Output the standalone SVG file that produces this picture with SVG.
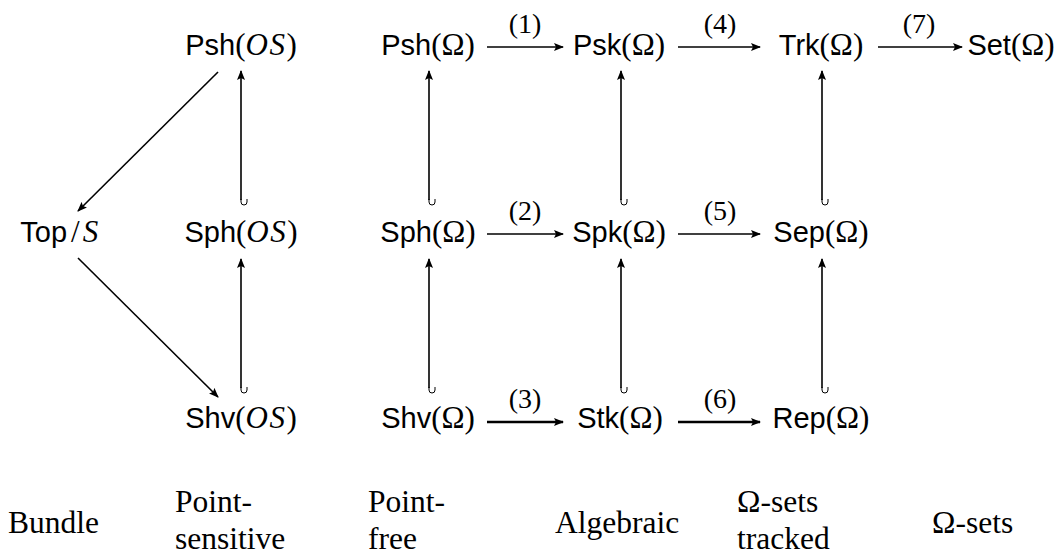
<svg xmlns="http://www.w3.org/2000/svg" width="1063" height="560" viewBox="0 0 1063 560">
<style>
.n{font-family:"Liberation Sans",Arial,sans-serif;font-size:29px;fill:#000}
.r{font-family:"Liberation Serif","Times New Roman",serif;font-size:31px}
.i{font-family:"Liberation Serif","Times New Roman",serif;font-size:31px;font-style:italic;letter-spacing:1.5px}
.lb{font-family:"Liberation Serif","Times New Roman",serif;font-size:28px;fill:#000;text-anchor:middle}
.cap{font-family:"Liberation Serif","Times New Roman",serif;font-size:31.5px;fill:#000}
.a{stroke:#000;stroke-width:1.6;fill:none;marker-end:url(#ah)}
.a2{stroke:#000;stroke-width:2.4;fill:none;marker-end:url(#ah)}
.hk{stroke:#000;stroke-width:1;fill:none}
</style>
<defs>
<marker id="ah" viewBox="0 0 10 8" refX="9" refY="4" markerWidth="10" markerHeight="8" markerUnits="userSpaceOnUse" orient="auto">
<path d="M0,0 L10,4 L0,8 L2,4 z" fill="#000"/>
</marker>
</defs>
<rect width="1063" height="560" fill="#fff"/>

<g id="connectors">
<line class="a" x1="218" y1="72" x2="78" y2="211"/>
<line class="a" x1="78" y1="258" x2="218" y2="397"/>
<line class="a" x1="487" y1="47" x2="563" y2="47"/>
<text class="lb" x="525" y="33">(1)</text>
<line class="a" x1="678" y1="47" x2="760" y2="47"/>
<text class="lb" x="720" y="33">(4)</text>
<line class="a" x1="878" y1="47" x2="962" y2="47"/>
<text class="lb" x="919" y="33">(7)</text>
<line class="a" x1="487" y1="234" x2="563" y2="234"/>
<text class="lb" x="525" y="220">(2)</text>
<line class="a" x1="678" y1="234" x2="760" y2="234"/>
<text class="lb" x="720" y="220">(5)</text>
<line class="a2" x1="487" y1="422" x2="563" y2="422"/>
<text class="lb" x="525" y="408">(3)</text>
<line class="a2" x1="678" y1="422" x2="760" y2="422"/>
<text class="lb" x="720" y="408">(6)</text>
<line class="a" x1="241" y1="200" x2="241" y2="71"/>
<path class="hk" d="M241,199 v3 a3,3 0 0 0 6,0 v-3"/>
<line class="a" x1="241" y1="388" x2="241" y2="259"/>
<path class="hk" d="M241,387 v3 a3,3 0 0 0 6,0 v-3"/>
<line class="a" x1="429" y1="200" x2="429" y2="71"/>
<path class="hk" d="M429,199 v3 a3,3 0 0 0 6,0 v-3"/>
<line class="a" x1="429" y1="388" x2="429" y2="259"/>
<path class="hk" d="M429,387 v3 a3,3 0 0 0 6,0 v-3"/>
<line class="a" x1="621" y1="200" x2="621" y2="71"/>
<path class="hk" d="M621,199 v3 a3,3 0 0 0 6,0 v-3"/>
<line class="a" x1="621" y1="388" x2="621" y2="259"/>
<path class="hk" d="M621,387 v3 a3,3 0 0 0 6,0 v-3"/>
<line class="a" x1="822" y1="200" x2="822" y2="71"/>
<path class="hk" d="M822,199 v3 a3,3 0 0 0 6,0 v-3"/>
<line class="a" x1="822" y1="388" x2="822" y2="259"/>
<path class="hk" d="M822,387 v3 a3,3 0 0 0 6,0 v-3"/>
</g>

<g id="node-top-s"><text class="n" x="60" y="242" text-anchor="middle">Top<tspan class="r" dx="4">/</tspan><tspan class="i" dx="3">S</tspan></text></g>
<g id="node-psh-os"><text class="n" x="241" y="55" text-anchor="middle">Psh<tspan class="r">(</tspan><tspan class="i">OS</tspan><tspan class="r">)</tspan></text></g>
<g id="node-sph-os"><text class="n" x="241" y="242" text-anchor="middle">Sph<tspan class="r">(</tspan><tspan class="i">OS</tspan><tspan class="r">)</tspan></text></g>
<g id="node-shv-os"><text class="n" x="241" y="428" text-anchor="middle">Shv<tspan class="r">(</tspan><tspan class="i">OS</tspan><tspan class="r">)</tspan></text></g>

<g id="node-psh"><text class="n" x="428" y="55" text-anchor="middle">Psh<tspan class="r">(Ω)</tspan></text></g>
<g id="node-sph"><text class="n" x="428" y="242" text-anchor="middle">Sph<tspan class="r">(Ω)</tspan></text></g>
<g id="node-shv"><text class="n" x="428" y="428" text-anchor="middle">Shv<tspan class="r">(Ω)</tspan></text></g>

<g id="node-psk"><text class="n" x="619" y="55" text-anchor="middle">Psk<tspan class="r">(Ω)</tspan></text></g>
<g id="node-spk"><text class="n" x="619" y="242" text-anchor="middle">Spk<tspan class="r">(Ω)</tspan></text></g>
<g id="node-stk"><text class="n" x="620" y="428" text-anchor="middle">Stk<tspan class="r">(Ω)</tspan></text></g>

<g id="node-trk"><text class="n" x="821" y="55" text-anchor="middle">Trk<tspan class="r">(Ω)</tspan></text></g>
<g id="node-sep"><text class="n" x="821" y="242" text-anchor="middle">Sep<tspan class="r">(Ω)</tspan></text></g>
<g id="node-rep"><text class="n" x="821" y="428" text-anchor="middle">Rep<tspan class="r">(Ω)</tspan></text></g>

<g id="node-set"><text class="n" x="1011" y="55" text-anchor="middle">Set<tspan class="r">(Ω)</tspan></text></g>

<g id="captions">
<text class="cap" x="8" y="533">Bundle</text>
<text class="cap" x="175" y="512">Point-</text>
<text class="cap" x="175" y="549">sensitive</text>
<text class="cap" x="368" y="512">Point-</text>
<text class="cap" x="368" y="549">free</text>
<text class="cap" x="555" y="533">Algebraic</text>
<text class="cap" x="737" y="512">Ω-sets</text>
<text class="cap" x="737" y="549">tracked</text>
<text class="cap" x="932" y="533">Ω-sets</text>
</g>
</svg>
